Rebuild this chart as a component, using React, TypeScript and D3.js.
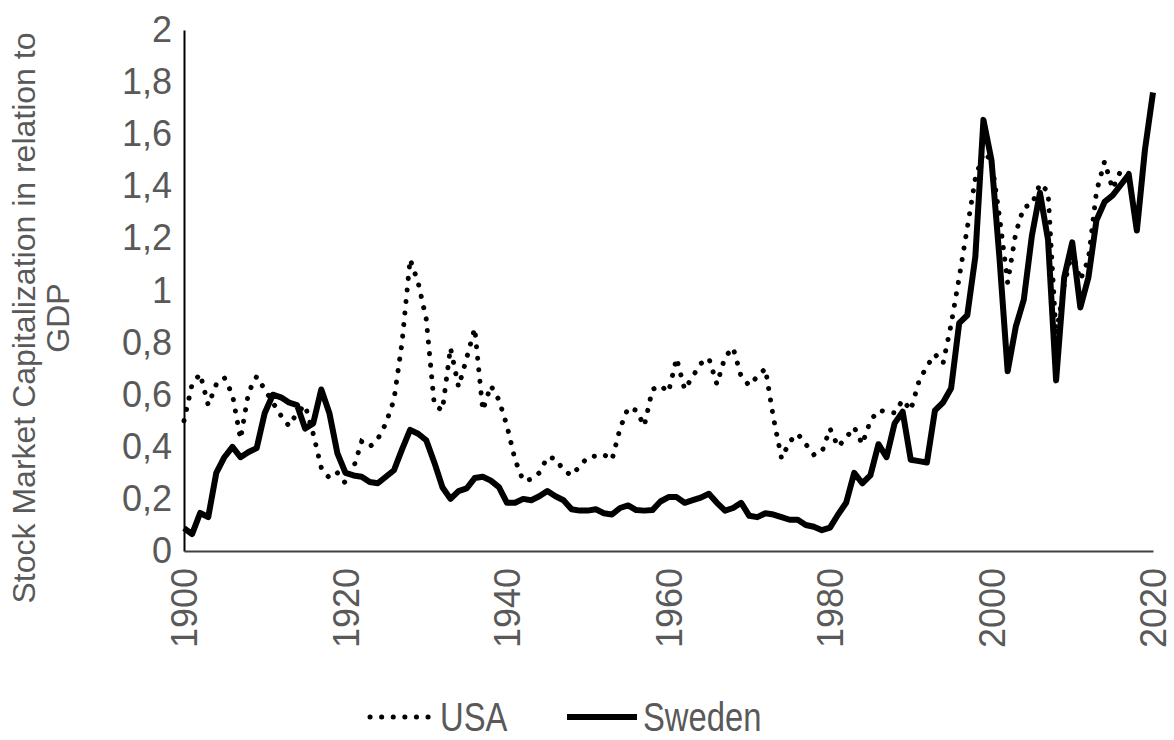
import React, { useEffect, useRef } from "react";
import * as d3 from "d3";

// years on the x axis, one value per year
const years = d3.range(1900, 2021);

const sweden = [
  0.088, 0.065, 0.146, 0.13, 0.3, 0.36, 0.4, 0.36, 0.38, 0.395,
  0.53, 0.6, 0.59, 0.57, 0.56, 0.47, 0.49, 0.62, 0.53, 0.375,
  0.3, 0.29, 0.285, 0.265, 0.26, 0.285, 0.31, 0.39, 0.465, 0.45,
  0.425, 0.34, 0.245, 0.2, 0.23, 0.24, 0.28, 0.285, 0.27, 0.245,
  0.185, 0.185, 0.2, 0.195, 0.21, 0.23, 0.21, 0.195, 0.16, 0.155,
  0.155, 0.16, 0.145, 0.14, 0.165, 0.175, 0.157, 0.155, 0.157, 0.19,
  0.207, 0.207, 0.185, 0.195, 0.205, 0.22, 0.185, 0.155, 0.165, 0.185,
  0.135, 0.13, 0.145, 0.14, 0.13, 0.12, 0.12, 0.1, 0.093, 0.08,
  0.09, 0.14, 0.185, 0.3, 0.26, 0.29, 0.41, 0.36, 0.49, 0.535,
  0.35, 0.345, 0.34, 0.54, 0.57, 0.625, 0.875, 0.905, 1.13, 1.655,
  1.5, 1.12, 0.69, 0.86, 0.965, 1.21, 1.375, 1.195, 0.655, 1.05,
  1.185, 0.935, 1.05, 1.27, 1.34, 1.365, 1.405, 1.445, 1.23, 1.54,
  1.76,
];

// USA series stops in 2017
const usa = [
  0.5, 0.64, 0.68, 0.56, 0.64, 0.665, 0.6, 0.43, 0.61, 0.67,
  0.62, 0.57, 0.52, 0.48, 0.53, 0.56, 0.45, 0.32, 0.28, 0.3,
  0.26, 0.32, 0.42, 0.4, 0.43, 0.49, 0.58, 0.8, 1.12, 1.03,
  0.89, 0.56, 0.54, 0.78, 0.63, 0.74, 0.855, 0.54, 0.635, 0.58,
  0.48, 0.35, 0.27, 0.275, 0.3, 0.36, 0.355, 0.31, 0.29, 0.325,
  0.36, 0.365, 0.37, 0.35, 0.47, 0.55, 0.54, 0.48, 0.62, 0.635,
  0.61, 0.74, 0.62, 0.67, 0.72, 0.74, 0.64, 0.745, 0.78, 0.67,
  0.635, 0.67, 0.7, 0.51, 0.355, 0.42, 0.45, 0.41, 0.37, 0.38,
  0.47, 0.4, 0.435, 0.475, 0.41, 0.5, 0.54, 0.535, 0.53, 0.58,
  0.54, 0.65, 0.71, 0.755, 0.72, 0.87, 1.05, 1.24, 1.43, 1.53,
  1.5, 1.28, 1.03, 1.22, 1.32, 1.33, 1.41, 1.38, 0.83, 1.02,
  1.15, 1.04, 1.12, 1.38, 1.495, 1.39, 1.46, 1.45,
];

const yTicks = [0, 0.2, 0.4, 0.6, 0.8, 1, 1.2, 1.4, 1.6, 1.8, 2];
const xTicks = [1900, 1920, 1940, 1960, 1980, 2000, 2020];

const FONT = "'Liberation Sans', Arial, sans-serif";
const GREY = "#595959";

const App = () => {
  const svgRef = useRef<SVGSVGElement>(null);

  useEffect(() => {
    const w = 1174;
    const h = 740;
    const left = 184, right = 1153, top = 30, bottom = 551;

    const svg = d3.select(svgRef.current);
    svg.selectAll("*").remove();
    svg.attr("width", w).attr("height", h);

    const x = d3.scaleLinear().domain([1900, 2020]).range([left, right]);
    const y = d3.scaleLinear().domain([0, 2]).range([bottom, top]);

    // y axis
    const yAxis = svg.append("g")
      .attr("transform", `translate(${left},0)`)
      .call(d3.axisLeft(y)
        .tickValues(yTicks)
        .tickSize(0)
        .tickPadding(12)
        .tickFormat(d => String(d).replace(".", ",")));
    yAxis.select(".domain").attr("stroke", "#000").attr("stroke-width", 2);
    yAxis.selectAll("text")
      .attr("fill", GREY)
      .style("font-family", FONT)
      .style("font-size", "36px");

    // x axis
    const xAxis = svg.append("g")
      .attr("transform", `translate(0,${bottom})`)
      .call(d3.axisBottom(x)
        .tickValues(xTicks)
        .tickSize(0)
        .tickFormat(d3.format("d")));
    xAxis.select(".domain").attr("stroke", "#404040").attr("stroke-width", 2);
    xAxis.selectAll("text")
      .attr("fill", GREY)
      .attr("transform", "rotate(-90)")
      .attr("x", -17)
      .attr("y", 0)
      .attr("dy", "0.35em")
      .style("text-anchor", "end")
      .style("font-family", FONT)
      .style("font-size", "36px");

    // y axis title, two lines
    const title = svg.append("text")
      .attr("transform", "translate(0,318) rotate(-90)")
      .attr("text-anchor", "middle")
      .attr("fill", GREY)
      .style("font-family", FONT)
      .style("font-size", "32px");
    title.append("tspan").attr("x", 0).attr("y", 35).text("Stock Market Capitalization in relation to");
    title.append("tspan").attr("x", 0).attr("y", 69).text("GDP");

    const line = d3.line<number>()
      .x((d, i) => x(years[i]))
      .y(d => y(d));

    // USA - round dots
    svg.append("path")
      .datum(usa)
      .attr("d", line)
      .attr("fill", "none")
      .attr("stroke", "#000")
      .attr("stroke-width", 5)
      .attr("stroke-linecap", "round")
      .attr("stroke-dasharray", "0.1 11.5");

    // Sweden - thick solid
    svg.append("path")
      .datum(sweden)
      .attr("d", line)
      .attr("fill", "none")
      .attr("stroke", "#000")
      .attr("stroke-width", 6)
      .attr("stroke-linejoin", "round");

    // legend (condensed text like the original)
    const ly = 717;
    const legend = svg.append("g");
    legend.append("line")
      .attr("x1", 370).attr("x2", 432).attr("y1", ly).attr("y2", ly)
      .attr("stroke", "#000").attr("stroke-width", 5)
      .attr("stroke-linecap", "round").attr("stroke-dasharray", "0.1 11.5");
    legend.append("text")
      .attr("transform", `translate(440,${ly + 14}) scale(0.82,1)`)
      .attr("fill", GREY)
      .style("font-family", FONT).style("font-size", "40px")
      .text("USA");
    legend.append("line")
      .attr("x1", 567).attr("x2", 637).attr("y1", ly).attr("y2", ly)
      .attr("stroke", "#000").attr("stroke-width", 6);
    legend.append("text")
      .attr("transform", `translate(643,${ly + 14}) scale(0.82,1)`)
      .attr("fill", GREY)
      .style("font-family", FONT).style("font-size", "40px")
      .text("Sweden");
  }, []);

  return (
    <svg ref={svgRef} style={{ position: "absolute", left: 0, top: 0, background: "#fff" }}></svg>
  );
};

export default App;
